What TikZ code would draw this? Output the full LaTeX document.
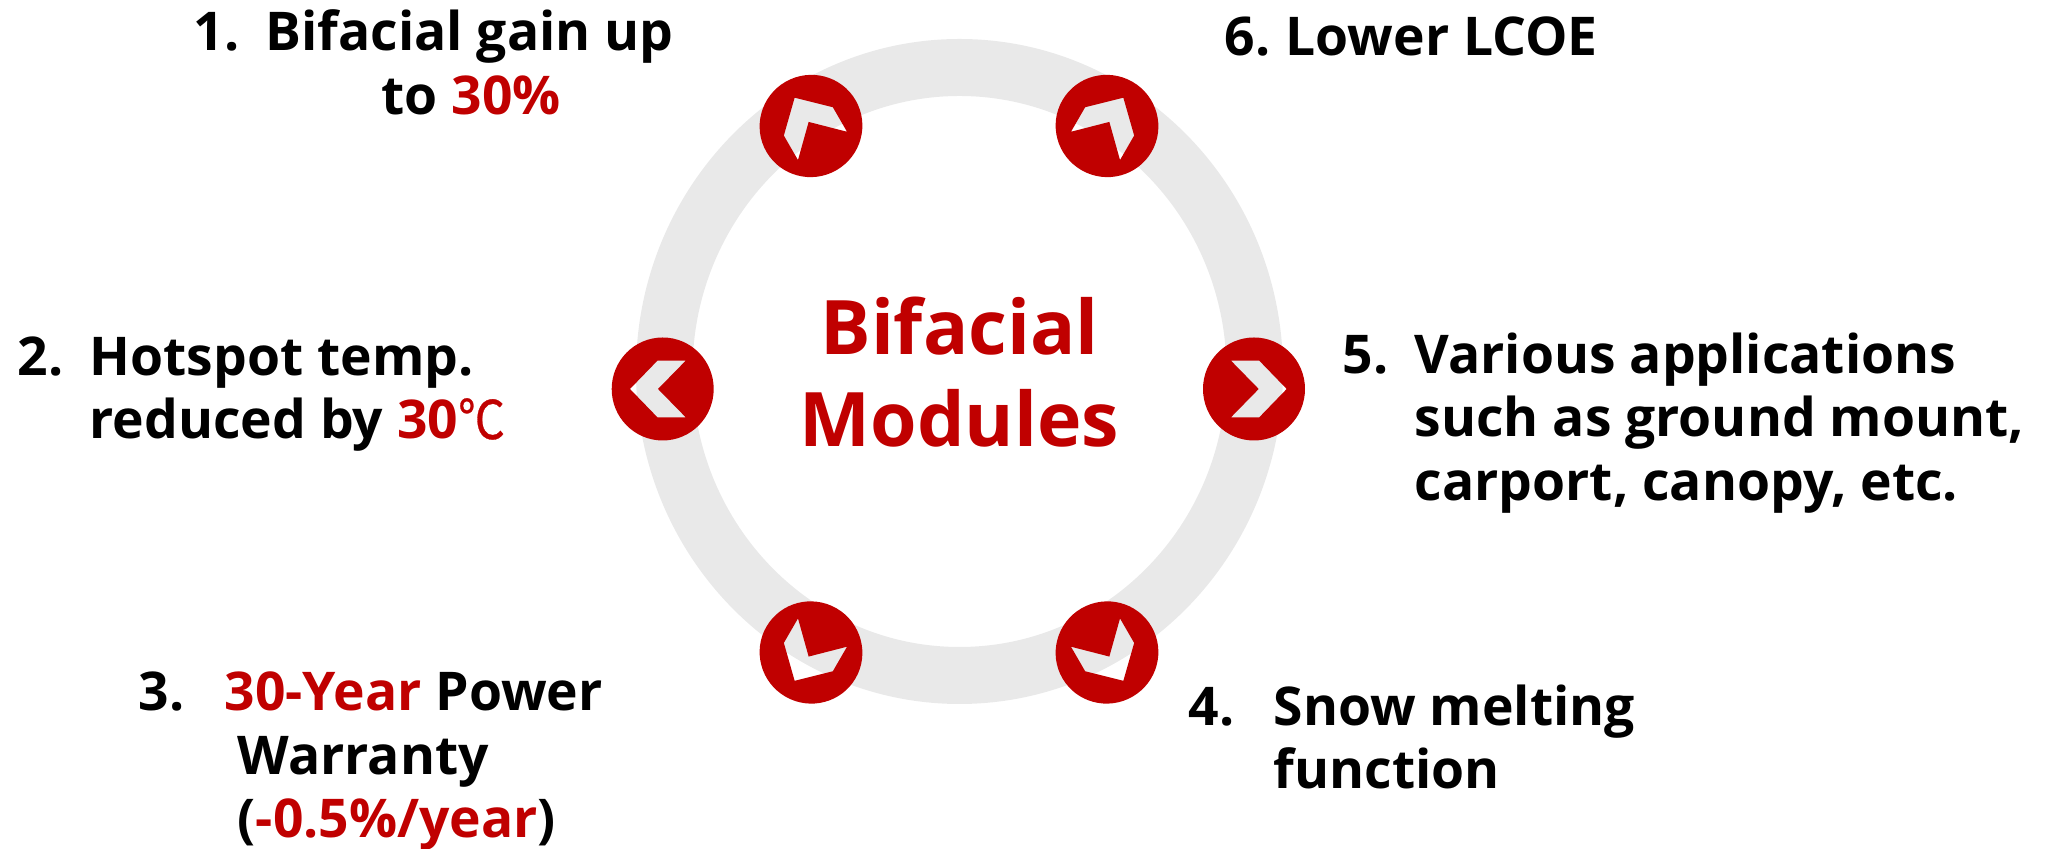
\documentclass[tikz,border=0pt]{standalone}
\usepackage{fontspec}
\setmainfont{Open Sans}
\newfontfamily\cjkfont[FakeBold=0.6]{Noto Sans CJK KR}
\usepackage{xcolor}
\definecolor{accentred}{HTML}{C00000}
\definecolor{ringgray}{HTML}{E9E9E9}
\newcommand{\hl}[1]{\textcolor{accentred}{#1}}

\begin{document}
\begin{tikzpicture}[
    labeltext/.style={anchor=north west, inner sep=0pt, align=left, font=\fontsize{15.2}{18.1}\selectfont\bfseries},
    centertitle/.style={text=accentred, align=center, inner sep=0pt, font=\fontsize{21.4}{26}\selectfont\bfseries},
    badge/.style={fill=accentred, even odd rule}
]
    \useasboundingbox (0,0) rectangle (20.51,8.49);

    % Ring
    \fill[ringgray, even odd rule] (9.595,4.775) ellipse [x radius=3.235, y radius=3.325]
        (9.595,4.775) ellipse [x radius=2.67, y radius=2.755];

    % Badges with chevron holes
    \foreach \px/\py/\rot in {8.11/7.23/-60, 6.627/4.60/0, 8.11/1.965/60, 11.07/1.965/120, 12.54/4.60/180, 11.07/7.23/240} {
        \fill[badge, shift={(\px,\py)}, rotate=\rot] (0,0) ellipse [x radius=.51, y radius=.515]
            (-.327,0) -- (-.053,.283) -- (.23,.283) -- (-.047,0) -- (.23,-.283) -- (-.053,-.283) -- cycle;
    }

    % Center text
    \node[centertitle] (title) at (9.595,4.77) {Bifacial\\Modules};

    % Labels
    \node[labeltext] (gain) at (1.93,8.40) {\makebox[7.2mm][l]{1.}Bifacial gain up\\\hspace*{18.8mm}to \hl{30\%}};
    \node[labeltext] (hotspot) at (0.17,5.13) {\makebox[7.2mm][l]{2.}Hotspot temp.\\\hspace*{7.2mm}reduced by \hl{30{\cjkfont\mdseries\scalebox{.88}[1]{℃}}}};
    \node[labeltext] (warranty) at (1.38,1.78) {\makebox[8.6mm][l]{3.}\hl{30-Year} Power\\\hspace*{9.9mm}Warranty\\\hspace*{9.9mm}(\hl{-0.5\%/year})};
    \node[labeltext] (snow) at (11.88,1.65) {\makebox[8.5mm][l]{4.}Snow melting\\\hspace*{8.5mm}function};
    \node[labeltext] (apps) at (13.42,5.17) {\makebox[7.2mm][l]{5.}Various applications\\\hspace*{7.2mm}such as ground mount,\\\hspace*{7.2mm}carport, canopy, etc.};
    \node[labeltext] (lcoe) at (12.24,8.33) {\makebox[6.1mm][l]{6.}Lower LCOE};
\end{tikzpicture}
\end{document}
